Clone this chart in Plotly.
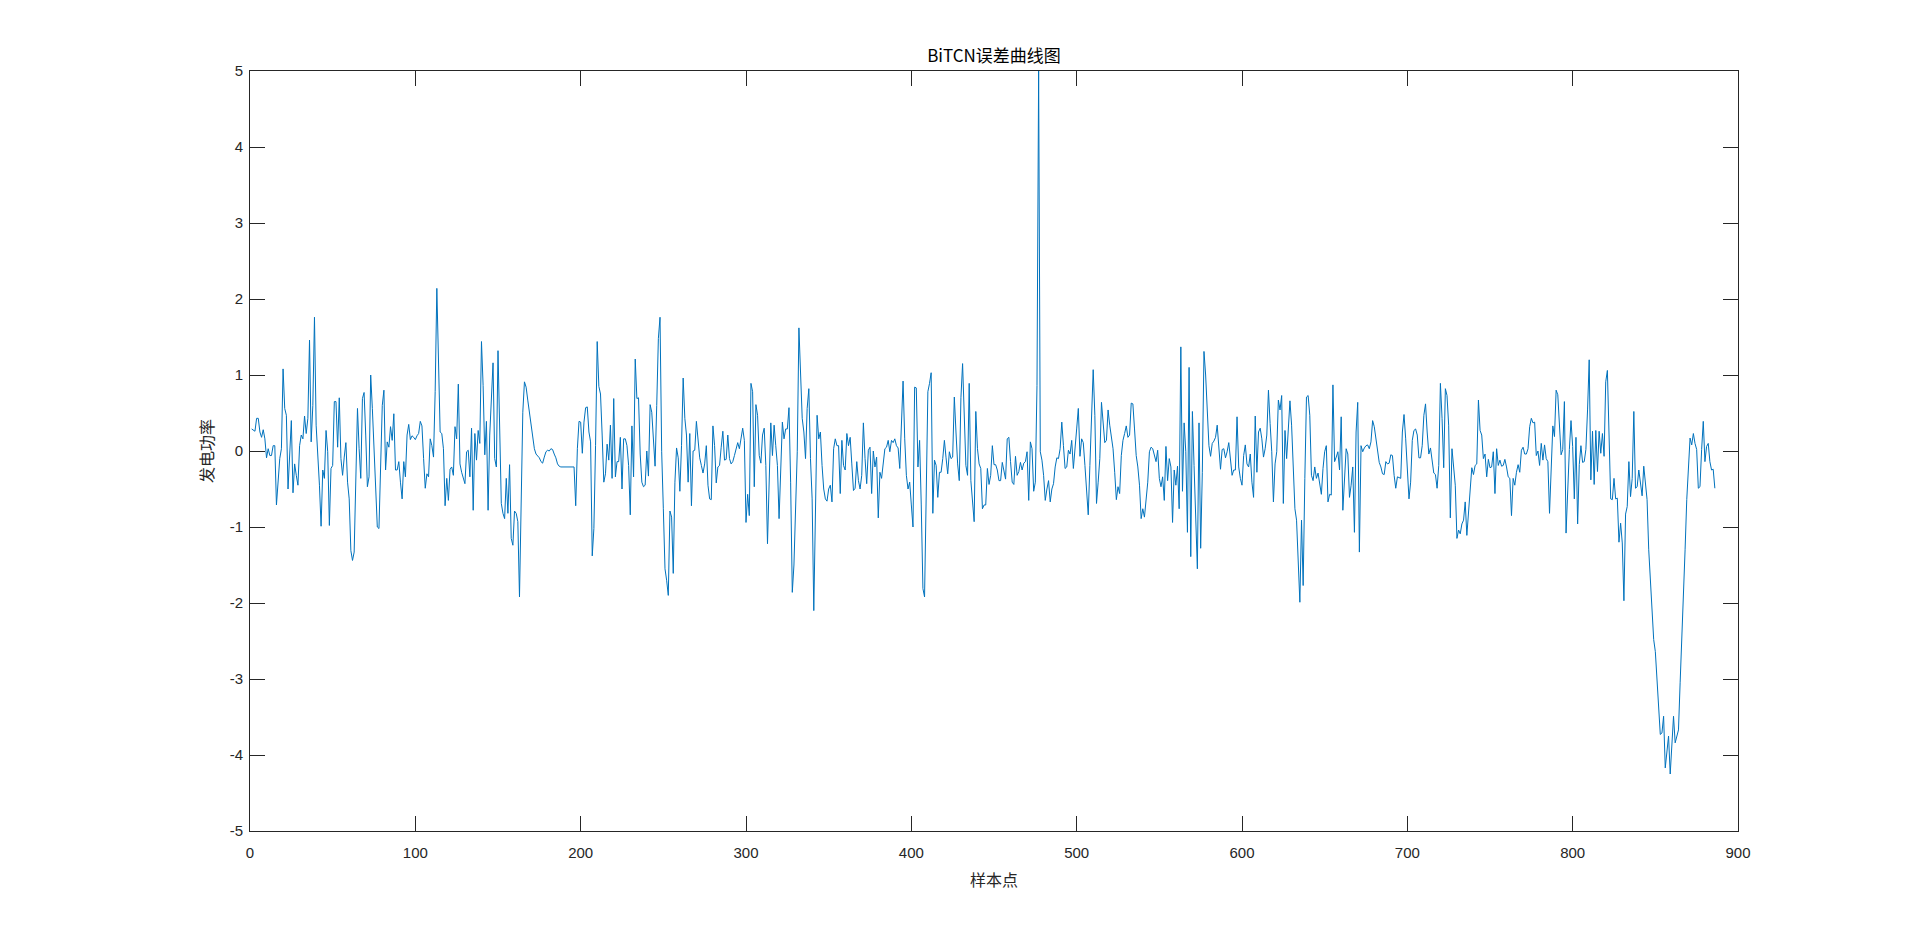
import plotly.graph_objects as go

# Error values, sample by sample (samples 1..886)
err_001_087 = [
    0.29, 0.27, 0.26, 0.43, 0.43, 0.25, 0.18, 0.28, 0.16, -0.09,
    0.03, -0.06, -0.06, 0.07, 0.07, -0.71, -0.41, -0.10, 0.03, 1.08,
    0.56, 0.47, -0.50, -0.01, 0.40, -0.55, -0.17, -0.32, -0.45, 0.07,
    0.21, 0.16, 0.46, 0.23, 0.43, 1.46, 0.12, 0.60, 1.76, 0.34,
    -0.01, -0.45, -0.99, -0.25, -0.36, 0.27, -0.01, -0.98, -0.23, -0.19,
    0.65, 0.65, 0.05, 0.70, -0.10, -0.32, -0.08, 0.11, -0.41, -0.63,
    -1.31, -1.44, -1.33, -0.45, 0.56, 0.03, -0.36, 0.69, 0.77, 0.21,
    -0.47, -0.34, 1.00, 0.56, -0.01, -0.54, -1.00, -1.02, -0.28, 0.60,
    0.80, -0.25, 0.12, 0.05, 0.32, 0.14, 0.49,
]
err_088_175 = [
    -0.25, -0.25, -0.14, -0.41, -0.63, -0.14, -0.34, 0.21, 0.35, 0.15,
    0.20, 0.18, 0.15, 0.20, 0.23, 0.39, 0.33, -0.10, -0.49, -0.30,
    -0.34, 0.16, 0.07, -0.08, 0.78, 2.14, 1.21, 0.25, 0.23, 0.03,
    -0.72, -0.36, -0.65, -0.24, -0.21, -0.32, 0.32, 0.16, 0.88, -0.17,
    -0.28, -0.36, -0.43, -0.01, 0.01, -0.34, 0.30, -0.78, 0.23, -0.12,
    0.27, 0.10, 1.44, 0.86, -0.05, 0.39, -0.78, 0.21, 0.78, 1.16,
    -0.10, -0.21, 1.32, 0.47, -0.69, -0.82, -0.89, -0.36, -0.82, -0.18,
    -1.15, -1.24, -0.79, -0.82, -0.93, -1.92, -0.67, 0.51, 0.91, 0.84,
    0.67, 0.49, 0.32, 0.16, 0.03, -0.04, -0.07, -0.09,
]
err_176_262 = [
    -0.14, -0.16, -0.08, -0.01, 0.01, 0.00, 0.03, 0.02, -0.04, -0.09,
    -0.17, -0.20, -0.21, -0.21, -0.21, -0.21, -0.21, -0.21, -0.21, -0.21,
    -0.21, -0.72, 0.03, 0.39, 0.38, -0.03, 0.38, 0.57, 0.58, 0.25,
    0.12, -1.38, -1.02, 0.07, 1.44, 0.85, 0.75, 0.21, -0.41, -0.30,
    0.09, -0.12, 0.34, -0.36, 0.69, -0.34, -0.14, -0.14, 0.18, -0.50,
    0.16, 0.16, 0.07, -0.19, -0.84, 0.33, -0.34, 1.21, 0.69, 0.70,
    -0.04, -0.41, -0.47, -0.45, 0.00, -0.33, 0.61, 0.51, 0.13, -0.20,
    0.60, 1.48, 1.76, -0.01, -0.76, -1.55, -1.70, -1.90, -0.79, -0.87,
    -1.61, -0.41, 0.04, -0.09, -0.53, 0.07, 0.96,
]
err_263_350 = [
    0.43, 0.21, -0.41, 0.23, -0.72, 0.00, 0.01, 0.39, 0.18, -0.09,
    -0.19, -0.29, -0.17, 0.07, -0.45, -0.63, -0.64, 0.33, 0.07, -0.42,
    -0.21, -0.19, 0.05, 0.26, -0.12, -0.11, 0.21, -0.10, -0.17, -0.14,
    -0.06, 0.05, 0.11, 0.03, 0.16, 0.30, 0.14, -0.94, -0.57, -0.85,
    0.89, 0.78, -0.47, 0.61, 0.47, -0.06, -0.16, 0.21, 0.30, -0.19,
    -1.22, -0.45, 0.37, -0.06, 0.34, 0.07, -0.19, -0.89, -0.10, 0.38,
    0.16, 0.29, 0.29, 0.57, -0.41, -1.86, -1.50, -0.54, -0.01, 1.62,
    1.00, 0.43, 0.25, -0.10, 0.56, 0.82, -0.10, -0.63, -2.10, -0.58,
    0.47, 0.16, 0.25, -0.19, -0.50, -0.63, -0.66, -0.50,
]
err_351_438 = [
    -0.45, -0.67, 0.03, 0.16, 0.07, 0.07, -0.56, 0.14, -0.19, -0.25,
    0.23, 0.07, 0.18, -0.17, -0.52, -0.49, -0.14, -0.39, -0.50, -0.32,
    0.37, -0.10, -0.43, 0.01, 0.05, -0.56, 0.00, -0.21, -0.08, -0.88,
    -0.28, -0.36, -0.14, 0.03, 0.05, 0.14, -0.01, 0.14, 0.11, 0.16,
    0.07, 0.04, -0.23, 0.51, 0.92, 0.16, -0.32, -0.50, -0.41, -0.71,
    -1.00, 0.84, 0.83, -0.21, 0.14, -0.71, -1.81, -1.92, -0.45, 0.78,
    0.89, 1.03, -0.82, -0.12, -0.19, -0.61, -0.28, -0.28, -0.10, 0.14,
    -0.09, -0.30, -0.01, -0.10, -0.08, 0.71, 0.25, -0.17, -0.39, 0.70,
    1.15, 0.34, -0.19, -0.32, 0.89, -0.39, -0.67, -0.93,
]
err_439_526 = [
    0.52, 0.03, -0.17, -0.23, -0.76, -0.71, -0.71, -0.23, -0.44, -0.32,
    0.07, -0.18, -0.18, -0.25, -0.39, -0.39, -0.15, -0.28, -0.37, 0.16,
    0.18, -0.14, -0.41, -0.44, -0.07, -0.32, -0.27, -0.15, -0.25, -0.16,
    -0.14, -0.01, -0.65, 0.12, 0.03, -0.53, -0.41, 0.86, 5.00, -0.01,
    -0.12, -0.32, -0.65, -0.50, -0.39, -0.67, -0.50, -0.43, -0.21, -0.09,
    -0.10, 0.03, 0.38, 0.07, -0.23, -0.21, 0.01, -0.04, 0.14, -0.23,
    -0.01, 0.29, 0.56, -0.07, 0.16, 0.11, -0.19, -0.58, -0.84, -0.19,
    0.47, 1.07, 0.47, -0.69, -0.41, -0.10, 0.64, 0.38, 0.11, 0.14,
    0.54, 0.34, 0.21, 0.03, -0.28, -0.64, -0.47, -0.56,
]
err_527_613 = [
    -0.06, 0.14, 0.23, 0.33, 0.18, 0.21, 0.63, 0.62, 0.29, -0.06,
    -0.21, -0.45, -0.89, -0.76, -0.87, -0.67, -0.41, -0.01, 0.05, 0.03,
    -0.04, -0.14, 0.01, -0.36, -0.47, -0.34, -0.65, 0.06, -0.39, -0.10,
    -0.21, -0.94, -0.25, -0.45, -0.20, -0.76, 1.37, -0.53, 0.37, -0.01,
    -1.07, 1.10, -1.39, 0.52, -0.19, -0.89, -1.55, 0.37, -1.28, -0.28,
    1.31, 1.00, 0.60, 0.07, -0.07, 0.10, 0.13, 0.18, 0.34, -0.01,
    -0.24, 0.02, 0.03, -0.09, -0.01, 0.11, -0.07, -0.32, -0.25, -0.25,
    0.45, -0.21, -0.36, -0.45, -0.06, 0.08, -0.17, -0.21, -0.04, -0.41,
    -0.61, 0.46, -0.28, 0.25, 0.30, 0.16, -0.08,
]
err_614_701 = [
    0.03, 0.21, 0.80, 0.36, -0.01, -0.67, -0.17, -0.01, 0.67, 0.54,
    0.73, -0.69, 0.27, -0.10, 0.21, 0.66, 0.34, -0.28, -0.76, -0.91,
    -1.46, -1.99, -0.91, -1.77, -0.36, 0.71, 0.73, 0.47, -0.32, -0.39,
    -0.21, -0.36, -0.29, -0.45, -0.57, -0.23, -0.01, 0.07, -0.67, -0.57,
    -0.58, 0.87, -0.14, -0.08, -0.01, -0.25, 0.45, -0.78, -0.43, 0.03,
    -0.04, -0.61, -0.45, -0.21, -1.07, 0.25, 0.64, -1.33, 0.07, -0.01,
    0.04, 0.07, 0.08, 0.03, 0.12, 0.40, 0.32, 0.18, -0.01, -0.15,
    -0.21, -0.30, -0.31, -0.14, -0.17, -0.16, -0.05, -0.06, -0.32, -0.49,
    -0.34, -0.35, -0.36, 0.25, 0.48, 0.16, -0.23, -0.63,
]
err_702_788 = [
    -0.41, 0.14, 0.27, 0.29, 0.21, -0.09, -0.09, 0.07, 0.47, 0.62,
    0.25, -0.04, 0.04, -0.17, -0.29, -0.31, -0.49, -0.19, 0.89, 0.43,
    -0.22, 0.82, 0.73, 0.34, -0.88, 0.03, -0.19, -0.45, -1.15, -1.04,
    -1.09, -0.96, -0.91, -0.67, -1.11, -0.80, -0.63, -0.22, -0.31, -0.19,
    -0.17, 0.67, 0.27, 0.21, -0.10, -0.04, -0.34, -0.11, -0.22, -0.21,
    -0.01, -0.56, 0.03, -0.19, -0.12, -0.20, -0.19, -0.11, -0.21, -0.34,
    -0.36, -0.85, -0.36, -0.45, -0.28, -0.18, -0.28, 0.01, 0.05, -0.04,
    -0.04, 0.03, 0.32, 0.43, 0.37, 0.38, -0.06, 0.00, -0.19, 0.10,
    -0.12, 0.08, -0.10, -0.14, -0.82, -0.10, 0.33,
]
err_789_886 = [
    0.19, 0.80, 0.74, 0.23, -0.05, 0.02, 0.65, -1.08, -0.42, 0.02,
    0.40, 0.06, -0.63, 0.18, -0.96, -0.18, 0.07, -0.15, -0.14, 0.02,
    0.54, 1.20, -0.38, 0.26, -0.44, 0.27, -0.27, 0.26, -0.03, 0.23,
    -0.07, 0.91, 1.06, 0.02, -0.63, -0.64, -0.36, -0.63, -0.62, -1.20,
    -0.95, -1.21, -1.97, -0.83, -0.73, -0.14, -0.60, -0.36, 0.52, -0.49,
    -0.47, -0.25, -0.40, -0.59, -0.20, -0.42, -0.64, -1.30, -1.74, -2.18,
    -2.48, -2.64, -3.05, -3.32, -3.73, -3.71, -3.49, -4.17, -3.97, -3.75,
    -4.25, -3.93, -3.49, -3.84, -3.77, -3.67, -3.05, -2.53, -1.96, -1.30,
    -0.64, -0.14, 0.17, 0.08, 0.23, 0.10, 0.02, -0.49, -0.47, 0.02,
    0.39, -0.14, 0.06, 0.10, -0.14, -0.25, -0.24, -0.49,
]

errors = (err_001_087 + err_088_175 + err_176_262 + err_263_350 + err_351_438
          + err_439_526 + err_527_613 + err_614_701 + err_702_788 + err_789_886)
samples = list(range(1, len(errors) + 1))

x_ticks = [0, 100, 200, 300, 400, 500, 600, 700, 800, 900]
y_ticks = [-5, -4, -3, -2, -1, 0, 1, 2, 3, 4, 5]

title_text = "BiTCN误差曲线图"
x_label = "样本点"
y_label = "发电功率"

fig = go.Figure()
fig.add_trace(go.Scatter(
    x=samples, y=errors, mode="lines",
    line=dict(color="#0072BD", width=1),
    showlegend=False, hoverinfo="x+y",
))

axis_common = dict(
    showline=True, linecolor="#262626", linewidth=1, mirror="allticks",
    ticks="inside", ticklen=15, tickwidth=1, tickcolor="#262626",
    showgrid=False, zeroline=False,
    tickfont=dict(family="Liberation Sans, Arial, sans-serif", size=15, color="#262626"),
)

fig.update_layout(
    width=1920, height=937,
    paper_bgcolor="white", plot_bgcolor="white",
    margin=dict(l=242, r=190, t=63, b=114),
    title=dict(
        text=title_text, x=(242 + (1920 - 190)) / 2 / 1920, xanchor="center",
        y=1 - 48 / 937, yanchor="middle",
        font=dict(family="Noto Sans CJK SC, Liberation Sans, sans-serif", size=17, color="#000000"),
    ),
    xaxis=dict(
        range=[0, 900], tickvals=x_ticks, ticktext=[str(v) for v in x_ticks],
        ticklabelstandoff=8,
        title=dict(text=x_label, standoff=14,
                   font=dict(family="Noto Sans CJK SC, sans-serif", size=16, color="#262626")),
        **axis_common,
    ),
    yaxis=dict(
        range=[-5, 5], tickvals=y_ticks, ticktext=[str(v) for v in y_ticks],
        ticklabelstandoff=3,
        title=dict(text=y_label, standoff=12,
                   font=dict(family="Noto Sans CJK SC, sans-serif", size=16, color="#262626")),
        **axis_common,
    ),
)

fig.write_html("out.html")
